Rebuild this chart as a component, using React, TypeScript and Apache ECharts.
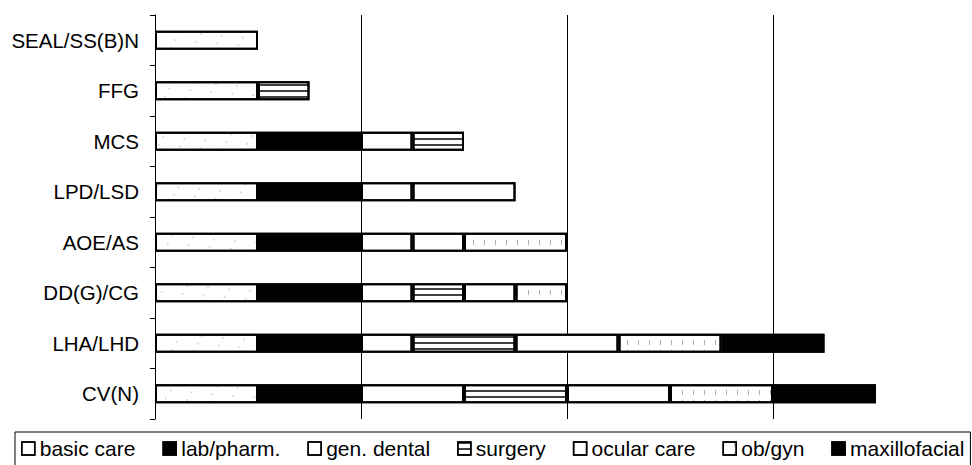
import React, { useEffect, useRef } from "react";
import * as echarts from "echarts";

const categories = [
  "SEAL/SS(B)N",
  "FFG",
  "MCS",
  "LPD/LSD",
  "AOE/AS",
  "DD(G)/CG",
  "LHA/LHD",
  "CV(N)",
];

const seriesNames = [
  "basic care",
  "lab/pharm.",
  "gen. dental",
  "surgery",
  "ocular care",
  "ob/gyn",
  "maxillofacial",
];

const basicCare = [1, 1, 1, 1, 1, 1, 1, 1];
const labPharm = [0, 0, 1, 1, 1, 1, 1, 1];
const genDental = [0, 0, 0.5, 0.5, 0.5, 0.5, 0.5, 1];
const surgery = [0, 0.5, 0.5, 0, 0, 0.5, 1, 1];
const ocularCare = [0, 0, 0, 1, 0.5, 0.5, 1, 1];
const obGyn = [0, 0, 0, 0, 1, 0.5, 1, 1];
const maxillofacial = [0, 0, 0, 0, 0, 0, 1, 1];

const seriesValues = [basicCare, labPharm, genDental, surgery, ocularCare, obGyn, maxillofacial];

const FONT = "'Liberation Sans', Arial, sans-serif";

export default function App() {
  const ref = useRef<HTMLDivElement>(null);

  useEffect(() => {
    if (!ref.current) return;
    const chart = echarts.init(ref.current, null, { renderer: "svg" });

    const fills = ["#ffffff", "#000000", "#ffffff", "#ffffff", "#ffffff", "#ffffff", "#000000"];
    const plain = {
      symbol: "rect",
      symbolSize: 1,
      dashArrayX: [1, 0],
      dashArrayY: [1, 0],
      color: "rgba(0,0,0,0)",
    };
    const decals: any[] = [
      {
        symbol: "circle",
        symbolSize: 0.6,
        dashArrayX: [2, 17],
        dashArrayY: [2, 7],
        color: "rgba(0,0,0,0.4)",
      },
      plain,
      plain,
      {
        symbol: "rect",
        symbolSize: 1,
        dashArrayX: [1, 0],
        dashArrayY: [1.5, 4],
        color: "rgba(0,0,0,0.75)",
      },
      plain,
      {
        symbol: "rect",
        symbolSize: 1,
        dashArrayX: [1, 10],
        dashArrayY: [5, 5],
        color: "rgba(0,0,0,0.3)",
      },
      plain,
    ];

    const series = seriesNames.map((name, i) => ({
      name,
      type: "bar",
      stack: "total",
      barWidth: 19,
      data: seriesValues[i].map((v) => (v === 0 ? null : v)),
      itemStyle: {
        color: fills[i],
        borderColor: "#000",
        borderWidth: 2,
        decal: decals[i],
      },
      emphasis: { disabled: true },
    }));

    chart.setOption({
      animation: false,
      backgroundColor: "#ffffff",
      aria: { enabled: true, decal: { show: true } },
      textStyle: { fontFamily: FONT },
      grid: {
        left: 155,
        top: 15,
        height: 404,
        width: 824,
        outerBoundsMode: "none",
        containLabel: false,
      },
      legend: {
        data: seriesNames,
        left: 15,
        top: 432,
        icon: "rect",
        itemWidth: 13,
        itemHeight: 13,
        itemGap: 27,
        padding: [6, 6, 20, 6],
        borderColor: "#000",
        borderWidth: 1,
        itemStyle: { borderColor: "#000", borderWidth: 1.5 },
        textStyle: { fontSize: 21, color: "#000", fontFamily: FONT },
        selectedMode: false,
      },
      xAxis: {
        type: "value",
        min: 0,
        max: 8,
        interval: 2,
        axisLabel: { show: false },
        axisLine: { show: false },
        axisTick: { show: false },
        splitLine: { show: true, lineStyle: { color: "#000", width: 1 } },
      },
      yAxis: {
        type: "category",
        inverse: true,
        data: categories,
        axisLine: { show: true, lineStyle: { color: "#000", width: 1 } },
        axisTick: { show: true, length: 5, lineStyle: { color: "#000" } },
        axisLabel: { fontSize: 20.5, color: "#000", margin: 16, fontFamily: FONT },
        splitLine: { show: false },
      },
      series,
    });

    return () => {
      chart.dispose();
    };
  }, []);

  return (
    <div
      ref={ref}
      style={{ position: "fixed", left: 0, top: 0, width: 972, height: 465, background: "#fff" }}
    />
  );
}
